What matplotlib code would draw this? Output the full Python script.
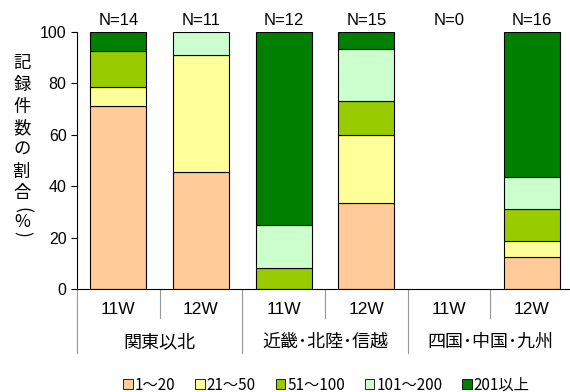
import numpy as np
import matplotlib.pyplot as plt
from matplotlib.patches import Patch
from matplotlib.transforms import blended_transform_factory

plt.rcParams['font.family'] = ['Noto Sans CJK JP', 'DejaVu Sans']

weeks = ['11W', '12W', '11W', '12W', '11W', '12W']
regions = ['関東以北', '近畿･北陸･信越', '四国･中国･九州']
n_counts = [14, 11, 12, 15, 0, 16]
legend_labels = ['1～20', '21～50', '51～100', '101～200', '201以上']
colors = ['#FFCC99', '#FFFF99', '#99CC00', '#CCFFCC', '#008000']

# share (%) per class, one list per bar
s_1_20 = [71.4, 45.5, 0.0, 33.3, 0.0, 12.5]
s_21_50 = [7.1, 45.5, 0.0, 26.7, 0.0, 6.25]
s_51_100 = [14.3, 0.0, 8.3, 13.3, 0.0, 12.5]
s_101_200 = [0.0, 9.1, 16.7, 20.0, 0.0, 12.5]
s_201 = [7.1, 0.0, 75.0, 6.7, 0.0, 56.25]
series = [s_1_20, s_21_50, s_51_100, s_101_200, s_201]

fig = plt.figure(figsize=(5.7, 3.92), dpi=100)
ax = fig.add_axes([77 / 570, 1 - 289 / 392, (573 - 77) / 570, 257 / 392])

x = np.arange(len(weeks))
bottom = np.zeros(len(weeks))
for vals, c in zip(series, colors):
    vals = np.array(vals)
    mask = vals > 0
    ax.bar(x[mask], vals[mask], 0.68, bottom=bottom[mask], color=c, edgecolor='black', linewidth=0.8)
    bottom += vals

for xi, n in zip(x, n_counts):
    ax.text(xi, 101.5, f'N={n}', ha='center', va='bottom', fontsize=12, family=['Liberation Sans'])

ax.set_xlim(-0.5, len(weeks) - 0.5)
ax.set_ylim(0, 100)
ax.set_yticks([0, 20, 40, 60, 80, 100])
ax.tick_params(axis='y', labelsize=11.5, length=4, direction='out', width=0.8)
for lab in ax.get_yticklabels():
    lab.set_family(['Liberation Sans'])
ax.set_xticks([])
ax.spines['top'].set_visible(False)
ax.spines['right'].set_visible(False)

# multi-level category axis
tr = blended_transform_factory(ax.transData, ax.transAxes)
h = 257
for i in range(len(weeks) + 1):
    bottom_y = -64 / h if i % 2 == 0 else -29 / h
    ax.plot([i - 0.5, i - 0.5], [0, bottom_y], color='#999999', lw=0.8, transform=tr, clip_on=False)
for xi, w in zip(x, weeks):
    ax.text(xi, -21 / h, w, ha='center', va='center', fontsize=12.5, transform=tr, family=['Liberation Sans'])
for gi, r in enumerate(regions):
    ax.text(2 * gi + 0.5, -53 / h, r, ha='center', va='center', fontsize=13, transform=tr)

# vertical y-axis label, one character per line
ylabel_chars = ['記', '録', '件', '数', 'の', '割', '合', '(', '%', ')']
ylabel_pos = [63, 85, 107, 128, 150, 172, 193, 210, 222, 234]
ylabel_rot = [0, 0, 0, 0, 0, 0, 0, -90, 0, -90]
for ch, yp, rot in zip(ylabel_chars, ylabel_pos, ylabel_rot):
    fig.text(22 / 570, 1 - yp / 392, ch, ha='center', va='center', fontsize=12.5, rotation=rot,
             rotation_mode='anchor')

handles = [Patch(facecolor=c, edgecolor='black', linewidth=0.6) for c in colors]
fig.legend(handles, legend_labels, loc='center', bbox_to_anchor=(0.573, 1 - 385 / 392), ncol=5,
           frameon=False, fontsize=11, handlelength=0.6, handleheight=0.6, handletextpad=0.15,
           columnspacing=1.3)

fig.savefig('out.png', dpi=100)
